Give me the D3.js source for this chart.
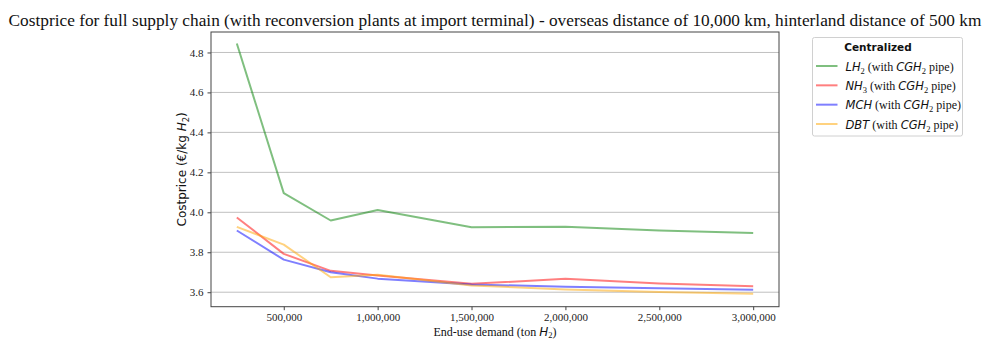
<!DOCTYPE html>
<html>
<head>
<meta charset="utf-8">
<script src="https://cdn.jsdelivr.net/npm/d3@7"></script>
<style>
  html, body { margin: 0; padding: 0; background: #fff; }
  svg { display: block; }
</style>
</head>
<body>
<svg id="chart" width="982" height="340"></svg>
<script>
// ---- Data ----
const demand = [250000, 500000, 750000, 1000000, 1500000, 2000000, 2500000, 3000000];
const lh2 = [4.845, 4.096, 3.959, 4.012, 3.925, 3.928, 3.909, 3.897];
const nh3 = [3.974, 3.792, 3.707, 3.684, 3.642, 3.667, 3.644, 3.630];
const mch = [3.909, 3.763, 3.700, 3.668, 3.639, 3.627, 3.620, 3.612];
const dbt = [3.927, 3.838, 3.675, 3.687, 3.634, 3.614, 3.601, 3.592];
const seriesNames = ["LH2", "NH3", "MCH", "DBT"];
const seriesColors = ["#008000", "#ff0000", "#0000ff", "#ffa500"];
const xTicks = [500000, 1000000, 1500000, 2000000, 2500000, 3000000];
const yTicks = [3.6, 3.8, 4.0, 4.2, 4.4, 4.6, 4.8];
const titleText = "Costprice for full supply chain (with reconversion plants at import terminal) - overseas distance of 10,000 km, hinterland distance of 500 km";
const legendTitle = "Centralized";

const seriesValues = [lh2, nh3, mch, dbt];

// ---- Layout ----
const svg = d3.select("#chart");
const plot = { left: 211, right: 779, top: 32, bottom: 306.7 };
const serif = "'Liberation Serif', 'Times New Roman', serif";
const sans = "'DejaVu Sans', sans-serif";

const x = d3.scaleLinear().domain([112500, 3137500]).range([plot.left, plot.right]);
const y = d3.scaleLinear().domain([3.5275, 4.9025]).range([plot.bottom, plot.top]);

// grid
svg.append("g")
  .selectAll("line")
  .data(yTicks)
  .join("line")
  .attr("x1", plot.left).attr("x2", plot.right)
  .attr("y1", d => y(d)).attr("y2", d => y(d))
  .attr("stroke", "#b0b0b0").attr("stroke-width", 1).attr("stroke-opacity", 0.8);

// lines
const lineGen = d3.line().x((d, i) => x(demand[i])).y(d => y(d));
svg.append("g")
  .selectAll("path")
  .data(seriesValues)
  .join("path")
  .attr("d", d => lineGen(d))
  .attr("fill", "none")
  .attr("stroke", (d, i) => seriesColors[i])
  .attr("stroke-opacity", 0.5)
  .attr("stroke-width", 2)
  .attr("stroke-linejoin", "round");

// frame
svg.append("rect")
  .attr("x", plot.left).attr("y", plot.top)
  .attr("width", plot.right - plot.left).attr("height", plot.bottom - plot.top)
  .attr("fill", "none").attr("stroke", "#444").attr("stroke-width", 1);

// axes
const xAxis = d3.axisBottom(x).tickValues(xTicks).tickFormat(d3.format(",")).tickSize(3.5).tickPadding(3);
const gx = svg.append("g").attr("transform", `translate(0,${plot.bottom})`).call(xAxis);
gx.select(".domain").remove();
gx.selectAll("line").attr("stroke", "#444");
gx.selectAll("text").attr("font-family", serif).attr("font-size", "11px").attr("fill", "#222");

const yAxis = d3.axisLeft(y).tickValues(yTicks).tickFormat(d3.format(".1f")).tickSize(3.5).tickPadding(4);
const gy = svg.append("g").attr("transform", `translate(${plot.left},0)`).call(yAxis);
gy.select(".domain").remove();
gy.selectAll("line").attr("stroke", "#444");
gy.selectAll("text").attr("font-family", serif).attr("font-size", "11px").attr("fill", "#222");

// title
svg.append("text")
  .attr("x", (plot.left + plot.right) / 2).attr("y", 25.7)
  .attr("text-anchor", "middle")
  .attr("font-family", serif).attr("font-size", "17.3px").attr("fill", "#111")
  .text(titleText);

// x label
const xl = svg.append("text")
  .attr("x", (plot.left + plot.right) / 2).attr("y", 335.5)
  .attr("text-anchor", "middle")
  .attr("font-family", serif).attr("font-size", "12px").attr("fill", "#111");
xl.append("tspan").text("End-use demand (ton ");
xl.append("tspan").attr("font-family", sans).attr("font-style", "italic").text("H");
xl.append("tspan").attr("font-size", "8.5px").attr("dy", 2).text("2");
xl.append("tspan").attr("dy", -2).text(")");

// y label
const yl = svg.append("text")
  .attr("transform", `translate(186,${(plot.top + plot.bottom) / 2}) rotate(-90)`)
  .attr("text-anchor", "middle")
  .attr("font-family", sans).attr("font-size", "12px").attr("fill", "#111");
yl.append("tspan").text("Costprice (€/kg ");
yl.append("tspan").attr("font-style", "italic").text("H");
yl.append("tspan").attr("font-size", "8.5px").attr("dy", 3).text("2");
yl.append("tspan").attr("dy", -3).text(")");

// legend
const lg = svg.append("g");
lg.append("rect")
  .attr("x", 812.5).attr("y", 37.5).attr("width", 150).attr("height", 98.5)
  .attr("rx", 2).attr("fill", "#fff").attr("stroke", "#d0d0d0").attr("stroke-width", 1);
lg.append("text")
  .attr("x", 878).attr("y", 51)
  .attr("text-anchor", "middle")
  .attr("font-family", sans).attr("font-weight", "bold").attr("font-size", "10.5px").attr("fill", "#111")
  .text(legendTitle);

const rowY = d3.scaleLinear().domain([0, 3]).range([66, 124]);
const items = lg.selectAll("g.item").data(seriesNames).join("g").attr("class", "item")
  .attr("transform", (d, i) => `translate(0,${rowY(i)})`);
items.append("line")
  .attr("x1", 816).attr("x2", 837.5).attr("y1", 0).attr("y2", 0)
  .attr("stroke", (d, i) => seriesColors[i]).attr("stroke-opacity", 0.5).attr("stroke-width", 2);
items.each(function(d) {
  const t = d3.select(this).append("text")
    .attr("x", 845.5).attr("y", 4.5)
    .attr("font-family", serif).attr("font-size", "12px").attr("fill", "#111");
  const m = d.match(/^([A-Z]+?)(\d?)$/);
  const base = m[2] ? m[1] : d;
  t.append("tspan").attr("font-family", sans).attr("font-style", "italic").attr("font-size", "11.5px").text(base);
  if (m[2]) {
    t.append("tspan").attr("font-size", "8.5px").attr("dy", 3).text(m[2]);
    t.append("tspan").attr("dy", -3).text(" (with ");
  } else {
    t.append("tspan").text(" (with ");
  }
  t.append("tspan").attr("font-family", sans).attr("font-style", "italic").attr("font-size", "11.5px").text("CGH");
  t.append("tspan").attr("font-size", "8.5px").attr("dy", 3).text("2");
  t.append("tspan").attr("dy", -3).text(" pipe)");
});
</script>
</body>
</html>
